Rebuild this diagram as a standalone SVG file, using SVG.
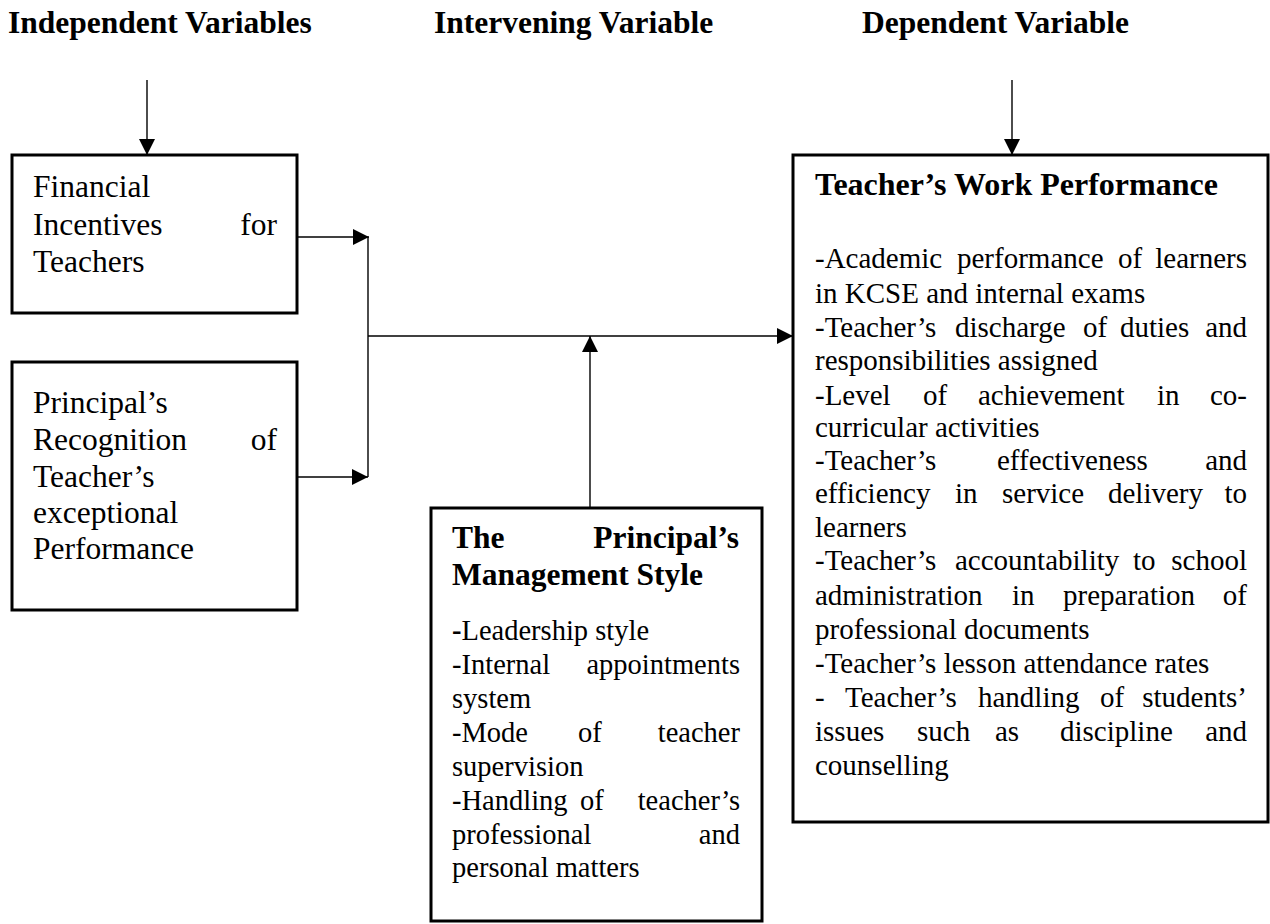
<svg xmlns="http://www.w3.org/2000/svg" width="1270" height="924" viewBox="0 0 1270 924">
<style>
.t{font-family:"Liberation Serif","Times New Roman",serif;fill:#000}
.h{font-size:31.5px;font-weight:bold}
.l{font-size:31.5px}
.r{font-size:29px}
.rb{font-size:32px;font-weight:bold}
.m{font-size:28.5px}
.mb{font-size:31.5px;font-weight:bold}
.e{text-anchor:end}
.box{fill:#fff;stroke:#000;stroke-width:3}
.c{fill:none;stroke:#000;stroke-width:1.4}
</style>
<defs>
<marker id="ah" markerUnits="userSpaceOnUse" markerWidth="16" markerHeight="16" refX="16" refY="8" orient="auto">
<path d="M0,0 L16,8 L0,16 Z" fill="#000"/>
</marker>
</defs>
<rect width="1270" height="924" fill="#fff"/>
<g id="headings" class="t h">
<text x="8" y="33">Independent Variables</text>
<text x="434" y="33">Intervening Variable</text>
<text x="862" y="33">Dependent Variable</text>
</g>
<g id="connectors">
<line class="c" x1="147" y1="80" x2="147" y2="155" marker-end="url(#ah)"/>
<line class="c" x1="1012" y1="80" x2="1012" y2="155" marker-end="url(#ah)"/>
<line class="c" x1="298" y1="237" x2="369" y2="237" marker-end="url(#ah)"/>
<line class="c" x1="298" y1="477" x2="368" y2="477" marker-end="url(#ah)"/>
<line class="c" x1="368" y1="237" x2="368" y2="477"/>
<line class="c" x1="368" y1="336" x2="793" y2="336" marker-end="url(#ah)"/>
<line class="c" x1="590" y1="507" x2="590" y2="336" marker-end="url(#ah)"/>
</g>
<g id="node-financial">
<rect class="box" x="12" y="155" width="285" height="158"/>
<g class="t l">
<text x="33" y="197">Financial</text>
<text x="33" y="235">Incentives</text>
<text class="e" x="277" y="235">for</text>
<text x="33" y="272">Teachers</text>
</g>
</g>
<g id="node-recognition">
<rect class="box" x="12" y="362" width="285" height="248"/>
<g class="t l">
<text x="33" y="413">Principal’s</text>
<text x="33" y="450">Recognition</text>
<text class="e" x="277" y="450">of</text>
<text x="33" y="487">Teacher’s</text>
<text x="33" y="523">exceptional</text>
<text x="33" y="559">Performance</text>
</g>
</g>
<g id="node-management">
<rect class="box" x="431" y="508" width="331" height="413"/>
<g class="t">
<text class="mb" x="452" y="548">The</text>
<text class="mb e" x="739" y="548">Principal’s</text>
<text class="mb" x="452" y="585">Management Style</text>
<text class="m" x="452" y="640"><tspan font-weight="bold">-</tspan>Leadership style</text>
<text class="m" x="452" y="674">-Internal</text>
<text class="m e" x="740" y="674">appointments</text>
<text class="m" x="452" y="708">system</text>
<text class="m" x="452" y="742">-Mode</text>
<text class="m" x="578" y="742">of</text>
<text class="m e" x="740" y="742">teacher</text>
<text class="m" x="452" y="776">supervision</text>
<text class="m" x="452" y="810">-Handling</text>
<text class="m" x="580" y="810">of</text>
<text class="m e" x="740" y="810">teacher’s</text>
<text class="m" x="452" y="844">professional</text>
<text class="m e" x="740" y="844">and</text>
<text class="m" x="452" y="877">personal matters</text>
</g>
</g>
<g id="node-performance">
<rect class="box" x="793" y="155" width="475" height="667"/>
<g class="t">
<text class="rb" x="815" y="195">Teacher’s Work Performance</text>
<g class="r">
<text x="815" y="268">-Academic</text><text x="957" y="268">performance</text><text x="1118" y="268">of</text><text class="e" x="1247" y="268">learners</text>
<text x="815" y="303">in KCSE and internal exams</text>
<text x="815" y="337">-Teacher’s</text><text x="955" y="337">discharge</text><text x="1083" y="337">of</text><text x="1120" y="337">duties</text><text class="e" x="1247" y="337">and</text>
<text x="815" y="370">responsibilities assigned</text>
<text x="815" y="405">-Level</text><text x="923" y="405">of</text><text x="978" y="405">achievement</text><text x="1157" y="405">in</text><text class="e" x="1247" y="405">co-</text>
<text x="815" y="437">curricular activities</text>
<text x="815" y="470">-Teacher’s</text><text x="997" y="470">effectiveness</text><text class="e" x="1247" y="470">and</text>
<text x="815" y="503">efficiency</text><text x="955" y="503">in</text><text x="1002" y="503">service</text><text x="1108" y="503">delivery</text><text class="e" x="1247" y="503">to</text>
<text x="815" y="537">learners</text>
<text x="815" y="570">-Teacher’s</text><text x="955" y="570">accountability</text><text x="1133" y="570">to</text><text class="e" x="1247" y="570">school</text>
<text x="815" y="605">administration</text><text x="1012" y="605">in</text><text x="1063" y="605">preparation</text><text class="e" x="1247" y="605">of</text>
<text x="815" y="639">professional documents</text>
<text x="815" y="673">-Teacher’s lesson attendance rates</text>
<text x="815" y="707">-</text><text x="845" y="707">Teacher’s</text><text x="978" y="707">handling</text><text x="1100" y="707">of</text><text class="e" x="1247" y="707">students’</text>
<text x="815" y="741">issues</text><text x="917" y="741">such</text><text x="995" y="741">as</text><text x="1060" y="741">discipline</text><text class="e" x="1247" y="741">and</text>
<text x="815" y="775">counselling</text>
</g>
</g>
</g>
</svg>
